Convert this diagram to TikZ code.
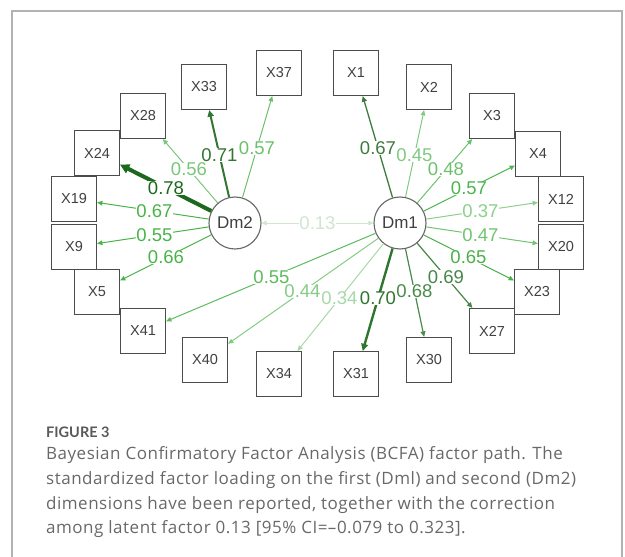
\documentclass[tikz,border=0pt]{standalone}
\usepackage{fontspec}
\setmainfont{Open Sans}[LetterSpace=3]
\newfontfamily\arialf{Liberation Sans}
\newfontfamily\latof{Lato}
\usetikzlibrary{arrows.meta}
\definecolor{c13}{RGB}{208,230,208}
\definecolor{c34}{RGB}{168,216,168}
\definecolor{c37}{RGB}{140,208,140}
\definecolor{c44}{RGB}{132,204,132}
\definecolor{c45}{RGB}{128,202,128}
\definecolor{c47}{RGB}{112,196,112}
\definecolor{c48}{RGB}{108,194,108}
\definecolor{c55r}{RGB}{92,188,92}
\definecolor{c56}{RGB}{122,198,122}
\definecolor{c57l}{RGB}{108,192,108}
\definecolor{c57r}{RGB}{78,180,78}
\definecolor{c65}{RGB}{74,176,74}
\definecolor{cbr}{RGB}{72,180,72}
\definecolor{c67r}{RGB}{62,124,62}
\definecolor{c68}{RGB}{74,138,74}
\definecolor{c69}{RGB}{70,134,70}
\definecolor{c70}{RGB}{46,118,46}
\definecolor{c71}{RGB}{50,118,50}
\definecolor{c78}{RGB}{28,104,28}
\definecolor{capgray}{RGB}{104,104,104}
\newcommand{\myedge}[4]{\draw[ed, draw=#3, line width=#4] (#1) -- (#2);}
\newcommand{\mylab}[4]{\path (#1.center) -- node[lab, text=#3] {#4} (#2.center);}
\begin{document}
\begin{tikzpicture}[x=1pt,y=-1pt,
  obs/.style={draw=black!70, line width=1.1pt, minimum size=45pt, inner sep=0pt, font=\arialf\fontsize{14.5}{14.5}\selectfont, text=black!75},
  lat/.style={circle, draw=black!60, line width=1.1pt, minimum size=52pt, inner sep=0pt, font=\arialf\fontsize{17}{17}\selectfont, text=black!75},
  ed/.style={-{Triangle[length=4pt 1.3, width=3pt 1.6]}},
  lab/.style={fill=white, inner sep=0.3pt, font=\arialf\fontsize{18.5}{18.5}\selectfont},
  caption/.style={anchor=base west, inner sep=0pt, text=capgray, font=\fontsize{17}{17}\selectfont}
]
\useasboundingbox (0,0) rectangle (625,557);
\draw[black!30, line width=1.5pt] (12,557) -- (12,11) -- (622,11) -- (622,557);

% latent factors
\node[lat] (Dm2) at (235,223) {Dm2};
\node[lat] (Dm1) at (400,223) {Dm1};

% left indicators
\node[obs] (X37) at (279,73) {X37};
\node[obs] (X33) at (204,87) {X33};
\node[obs] (X28) at (143,116) {X28};
\node[obs] (X24) at (97,153) {X24};
\node[obs] (X19) at (74,199) {X19};
\node[obs] (X9)  at (74,247) {X9};
\node[obs] (X5)  at (97,292) {X5};
\node[obs] (X41) at (143,331) {X41};
\node[obs] (X40) at (205,360) {X40};
\node[obs] (X34) at (279,374) {X34};
% right indicators
\node[obs] (X1)  at (356,73) {X1};
\node[obs] (X2)  at (429,87) {X2};
\node[obs] (X3)  at (492,116) {X3};
\node[obs] (X4)  at (538,154) {X4};
\node[obs] (X12) at (561,199) {X12};
\node[obs] (X20) at (561,247) {X20};
\node[obs] (X23) at (537,292) {X23};
\node[obs] (X27) at (492,331) {X27};
\node[obs] (X30) at (429,360) {X30};
\node[obs] (X31) at (356,374) {X31};

% edges
\draw[{Triangle[length=5pt,width=4.5pt]}-{Triangle[length=5pt,width=4.5pt]}, draw=c13, line width=1pt] (Dm2) -- (Dm1);
\myedge{Dm2}{X37}{c57l}{1pt}
\myedge{Dm2}{X33}{c71}{2pt}
\myedge{Dm2}{X28}{c56}{1pt}
\myedge{Dm2}{X24}{c78}{4pt}
\myedge{Dm2}{X19}{cbr}{1pt}
\myedge{Dm2}{X9}{cbr}{1pt}
\myedge{Dm2}{X5}{cbr}{1pt}
\myedge{Dm1}{X1}{c67r}{1.3pt}
\myedge{Dm1}{X2}{c45}{1pt}
\myedge{Dm1}{X3}{c48}{1pt}
\myedge{Dm1}{X4}{c57r}{1pt}
\myedge{Dm1}{X12}{c37}{1pt}
\myedge{Dm1}{X20}{c47}{1pt}
\myedge{Dm1}{X23}{c65}{1pt}
\myedge{Dm1}{X27}{c69}{1.2pt}
\myedge{Dm1}{X30}{c68}{1.2pt}
\myedge{Dm1}{X31}{c70}{2.4pt}
\myedge{Dm1}{X34}{c34}{1pt}
\myedge{Dm1}{X40}{c44}{1pt}
\myedge{Dm1}{X41}{c55r}{1pt}

% labels
\mylab{Dm2}{Dm1}{c13}{0.13}
\mylab{Dm2}{X37}{c57l}{0.57}
\mylab{Dm2}{X33}{c71}{0.71}
\mylab{Dm2}{X28}{c56}{0.56}
\mylab{Dm2}{X24}{c78}{0.78}
\mylab{Dm2}{X19}{cbr}{0.67}
\mylab{Dm2}{X9}{cbr}{0.55}
\mylab{Dm2}{X5}{cbr}{0.66}
\mylab{Dm1}{X1}{c67r}{0.67}
\mylab{Dm1}{X2}{c45}{0.45}
\mylab{Dm1}{X3}{c48}{0.48}
\mylab{Dm1}{X4}{c57r}{0.57}
\mylab{Dm1}{X12}{c37}{0.37}
\mylab{Dm1}{X20}{c47}{0.47}
\mylab{Dm1}{X23}{c65}{0.65}
\mylab{Dm1}{X27}{c69}{0.69}
\mylab{Dm1}{X30}{c68}{0.68}
\mylab{Dm1}{X31}{c70}{0.70}
\mylab{Dm1}{X34}{c34}{0.34}
\mylab{Dm1}{X40}{c44}{0.44}
\mylab{Dm1}{X41}{c55r}{0.55}

% caption
\node[caption, font=\latof\bfseries\fontsize{14.5}{14.5}\selectfont, text=black!65] (fig) at (46,437) {FIGURE 3};
\node[caption] (l1) at (46,459) {Bayesian Confirmatory Factor Analysis (BCFA) factor path. The};
\node[caption] (l2) at (46,484) {standardized factor loading on the first (Dml) and second (Dm2)};
\node[caption] (l3) at (46,509) {dimensions have been reported, together with the correction};
\node[caption] (l4) at (46,533) {among latent factor 0.13 [95\% CI=–0.079 to 0.323].};
\end{tikzpicture}
\end{document}
